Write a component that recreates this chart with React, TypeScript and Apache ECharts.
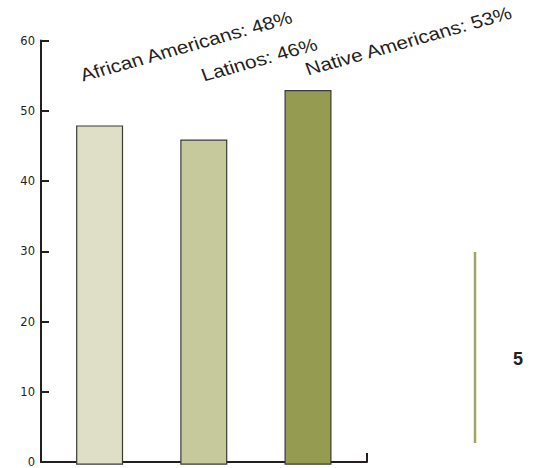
import React, { useEffect, useRef } from "react";
import * as echarts from "echarts";

// Share of each group, in percent
const categories = ["African Americans", "Latinos", "Native Americans"];
const values = [48, 46, 53];
const barColors = ["#dfdfc7", "#c6c99b", "#959c51"];
const yMin = 0;
const yMax = 60;
const yStep = 10;
const sideNumber = "5";

// Start point of each rotated caption (page pixels)
const captionAnchors: [number, number][] = [
  [84, 84],
  [205, 84],
  [309, 78],
];

const INK = "#231f20";

export default function App() {
  const ref = useRef<HTMLDivElement>(null);

  useEffect(() => {
    if (!ref.current) return;
    const chart = echarts.init(ref.current, undefined, { renderer: "svg" });

    const gridTop = 40.6;
    const gridHeight = 424.1;

    const stretch = 1.16;
    const tilt = (18 * Math.PI) / 180;

    const captions = categories.map((c, i) => ({
      type: "group",
      x: captionAnchors[i][0],
      y: captionAnchors[i][1],
      scaleX: stretch,
      children: [
        {
          type: "text",
          rotation: tilt,
          style: {
            text: `${c}: ${values[i]}%`,
            fill: INK,
            font: '18px "Liberation Sans", Arial, sans-serif',
            textAlign: "left",
            textVerticalAlign: "bottom",
          },
        },
      ],
    }));

    chart.setOption({
      animation: false,
      grid: [
        { left: 41, top: gridTop, width: 326, height: gridHeight },
        { left: 47.5, top: gridTop, width: 312.6, height: gridHeight },
      ],
      xAxis: [
        {
          type: "value",
          gridIndex: 0,
          min: 0,
          max: 1,
          interval: 1,
          axisLine: { show: true, lineStyle: { color: INK, width: 2 } },
          axisTick: { show: true, inside: true, length: 9, lineStyle: { color: INK, width: 2 } },
          axisLabel: { show: false },
          splitLine: { show: false },
        },
        {
          type: "category",
          gridIndex: 1,
          data: categories,
          show: false,
        },
      ],
      yAxis: [
        {
          type: "value",
          gridIndex: 0,
          min: yMin,
          max: yMax,
          interval: yStep,
          axisLine: { show: true, lineStyle: { color: INK, width: 2 } },
          axisTick: { show: true, inside: true, length: 8, lineStyle: { color: INK, width: 2 } },
          axisLabel: {
            color: INK,
            fontSize: 11.5,
            fontFamily: '"DejaVu Sans", sans-serif',
            margin: 6,
          },
          splitLine: { show: false },
        },
        {
          type: "value",
          gridIndex: 1,
          min: yMin,
          max: yMax,
          show: false,
        },
      ],
      series: [
        {
          type: "bar",
          xAxisIndex: 1,
          yAxisIndex: 1,
          barWidth: 47,
          data: values.map((v, i) => ({
            value: v,
            itemStyle: { color: barColors[i], borderColor: "#3a3a3a", borderWidth: 1.2 },
          })),
        },
      ],
      graphic: [
        ...captions,
        {
          type: "line",
          shape: { x1: 475, y1: 252, x2: 475, y2: 443 },
          style: { stroke: "#a3a65e", lineWidth: 2.5 },
        },
        {
          type: "text",
          x: 518,
          y: 359,
          style: {
            text: sideNumber,
            fill: INK,
            font: 'bold 18px "Liberation Sans", Arial, sans-serif',
            textAlign: "center",
            textVerticalAlign: "middle",
          },
        },
      ],
    });

    return () => chart.dispose();
  }, []);

  return (
    <div
      ref={ref}
      style={{ position: "fixed", left: 0, top: 0, width: 533, height: 468, background: "#fff" }}
    />
  );
}
